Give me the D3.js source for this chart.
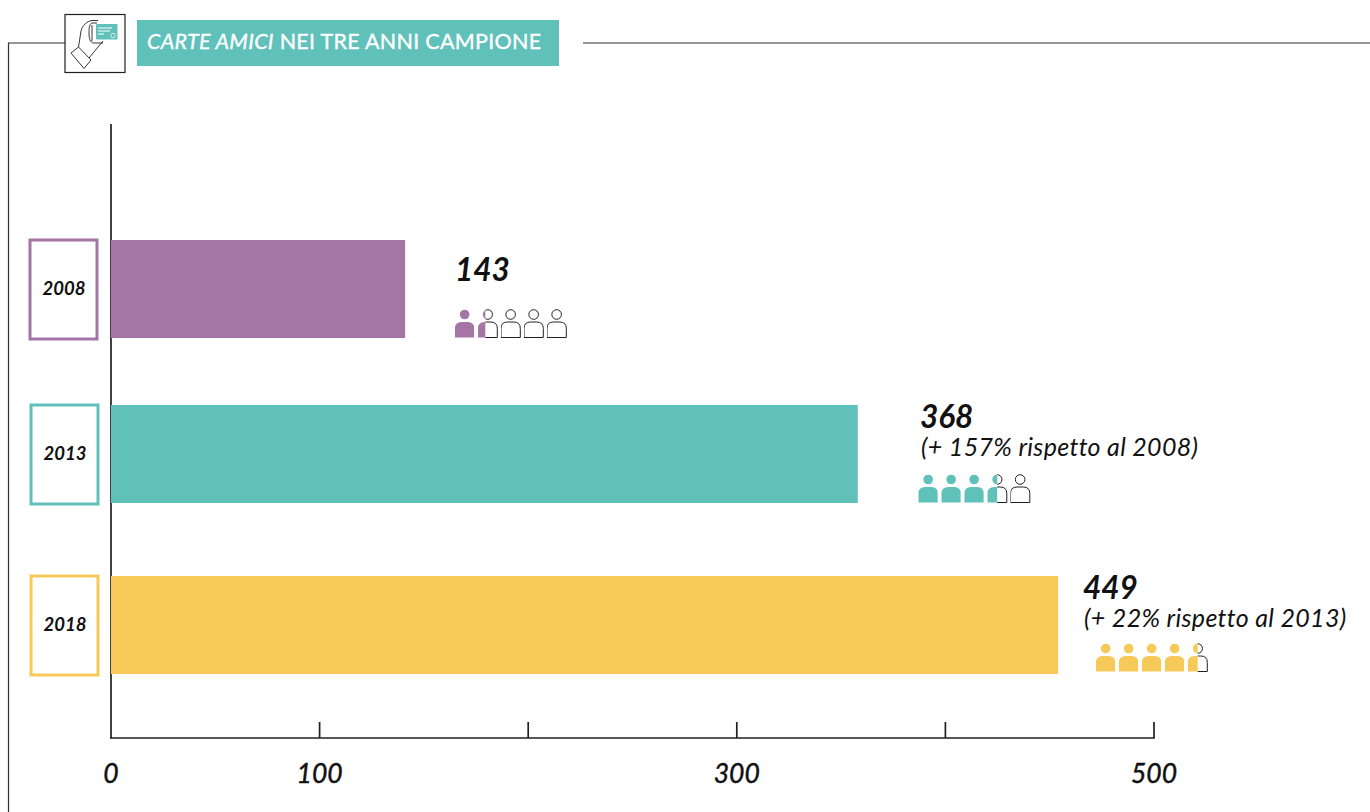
<!DOCTYPE html>
<html><head><meta charset="utf-8">
<script src="https://cdn.jsdelivr.net/npm/d3@7"></script>
<style>html,body{margin:0;padding:0;background:#fff;overflow:hidden}svg{display:block}text{font-family:Lato,"Open Sans",sans-serif}</style>
</head><body><svg id="c" width="1370" height="812"></svg>
<script>
const years = ["2008","2013","2018"];
const barValues = [141, 358, 454];
const valueLabels = ["143","368","449"];
const notes = ["", "(+ 157% rispetto al 2008)", "(+ 22% rispetto al 2013)"];
const colors = ["#A575A5","#60C1BA","#F6C958"];
const filledIcons = [1.38, 3.5, 4.5];
const tickValues = [0,100,200,300,400,500];
const tickLabels = [0,100,300,500];
const ink = "#231F20";

const svg = d3.select("#c");
const x = d3.scaleLinear().domain([0,500]).range([111,1154]);
const rowTop = d3.scaleOrdinal().domain(years).range([240,405,576]);
const barH = 98;
const boxLeft = d3.scaleOrdinal().domain(years).range([30,31,31]);
const valueX = d3.scaleOrdinal().domain(years).range([456,921,1084]);
const valueY = d3.scaleOrdinal().domain(years).range([281,428,599]);
const iconX = d3.scaleOrdinal().domain(years).range([455,918.5,1096]);
const iconY = d3.scaleOrdinal().domain(years).range([322,487,656]);
const step = 23, iconW = 19.3, iconH = 15.5;

// frame
svg.append("path").attr("fill","none").attr("stroke","#2e2e34").attr("stroke-width",1.2)
  .attr("d","M8.5,812V43H65M583,43H1370");

// header
svg.append("rect").attr("x",65).attr("y",14.5).attr("width",60).attr("height",58)
  .attr("fill","#fff").attr("stroke",ink).attr("stroke-width",1.2);
svg.append("rect").attr("x",137).attr("y",20).attr("width",422).attr("height",46).attr("fill","#60C1BA");
const title = svg.append("text").attr("x",147).attr("y",49).attr("fill","#fff").attr("stroke","#fff").attr("stroke-width",.35)
  .attr("font-size",21.5).attr("letter-spacing",.28);
title.append("tspan").attr("font-style","italic").text("CARTE AMICI");
title.append("tspan").text(" NEI TRE ANNI CAMPIONE");

// hand + card icon
const hand = svg.append("g").attr("fill","none").attr("stroke",ink).attr("stroke-width",.9);
hand.append("path").attr("d","M71,53L78.5,47L91,60L84,68.5Z");
hand.append("path").attr("d","M78.5,47L81,31C82,26 87,21 92,20.5H98M103,41L89,58");
hand.append("path").attr("d","M97,23H92C89,24 89,29 89,33C89,38 90,43 94,43H103");
hand.append("path").attr("d","M92,25V41");
svg.append("rect").attr("x",96).attr("y",24).attr("width",21.5).attr("height",15.5).attr("rx",1).attr("fill","#60C1BA");
svg.append("g").attr("stroke","#fff").attr("stroke-width",1).selectAll("line")
  .data([[28,112],[31,110],[34,104]]).join("line")
  .attr("x1",98).attr("x2",d=>d[1]).attr("y1",d=>d[0]).attr("y2",d=>d[0]);
svg.append("circle").attr("cx",113).attr("cy",35.5).attr("r",2.2).attr("fill","none").attr("stroke","#fff").attr("stroke-width",.7);

// axes
const axisG = svg.append("g").attr("stroke",ink).attr("stroke-width",1.7);
axisG.append("line").attr("x1",x(0)).attr("x2",x(0)).attr("y1",124).attr("y2",738.5);
axisG.append("line").attr("x1",x(0)-.8).attr("x2",x(500)+.8).attr("y1",738).attr("y2",738);
axisG.selectAll(".t").data(tickValues.slice(1)).join("line").attr("class","t")
  .attr("x1",d=>x(d)).attr("x2",d=>x(d)).attr("y1",722).attr("y2",738);
svg.selectAll(".tl").data(tickLabels).join("text").attr("class","tl")
  .attr("x",d=>x(d)).attr("y",783).attr("text-anchor","middle")
  .attr("font-size",26.5).attr("font-style","italic").attr("fill","#111").attr("stroke","#111").attr("stroke-width",.45)
  .text(d=>d);

// bars
svg.selectAll(".bar").data(years).join("rect").attr("class","bar")
  .attr("x",x(0)).attr("y",d=>rowTop(d)).attr("height",barH)
  .attr("width",(d,i)=>x(barValues[i])-x(0)).attr("fill",(d,i)=>colors[i]);

// year boxes
svg.selectAll(".box").data(years).join("rect").attr("class","box")
  .attr("x",d=>boxLeft(d)).attr("y",d=>rowTop(d)).attr("width",67).attr("height",99)
  .attr("fill","#fff").attr("stroke",(d,i)=>colors[i]).attr("stroke-width",3);
svg.selectAll(".yr").data(years).join("text").attr("class","yr")
  .attr("x",d=>boxLeft(d)+34).attr("y",d=>rowTop(d)+55).attr("text-anchor","middle")
  .attr("font-size",18.5).attr("font-weight",700).attr("font-style","italic").attr("fill","#111")
  .text(d=>d);

// value labels
svg.selectAll(".val").data(years).join("text").attr("class","val")
  .attr("x",d=>valueX(d)-1).attr("y",d=>valueY(d))
  .attr("font-size",31.5).attr("font-weight",700).attr("font-style","italic").attr("fill","#111")
  .text((d,i)=>valueLabels[i]);
svg.selectAll(".note").data(years).join("text").attr("class","note")
  .attr("x",d=>valueX(d)).attr("y",d=>valueY(d)+28)
  .attr("font-size",25).attr("font-style","italic").attr("fill","#111").attr("letter-spacing",.33)
  .text((d,i)=>notes[i]);

// pictograms
function person(g, w, h){
  const r = 6.5;
  g.append("path").attr("d",`M0,${h}V${r}Q0,0 ${r},0H${w-r}Q${w},0 ${w},${r}V${h}Z`);
  g.append("circle").attr("cx",w/2).attr("cy",-7.5).attr("r",4.8);
}
const defs = svg.append("defs");
years.forEach((y,i)=>{
  const f = filledIcons[i], xs = iconX(y), ys = iconY(y);
  d3.range(5).forEach(k=>{
    const frac = Math.max(0, Math.min(1, f-k));
    const left = xs+k*step, cut = left+iconW*frac;
    if (frac < 1){
      const cid = `rest${i}${k}`;
      defs.append("clipPath").attr("id",cid).append("rect")
        .attr("x",cut).attr("y",ys-14).attr("width",iconW*(1-frac)+2).attr("height",32);
      const o = svg.append("g").attr("clip-path",`url(#${cid})`)
        .append("g").attr("transform",`translate(${left},${ys})`)
        .attr("fill","#fff").attr("stroke",ink).attr("stroke-width",1);
      person(o, iconW, iconH);
    }
    if (frac > 0){
      const id = `clip${i}${k}`;
      defs.append("clipPath").attr("id",id).append("rect")
        .attr("x",left-1).attr("y",ys-14).attr("width",iconW*frac+1).attr("height",32);
      const fg = svg.append("g").attr("clip-path",`url(#${id})`)
        .append("g").attr("transform",`translate(${left},${ys})`).attr("fill",colors[i]);
      person(fg, iconW, iconH);
    }
  });
});
</script></body></html>
